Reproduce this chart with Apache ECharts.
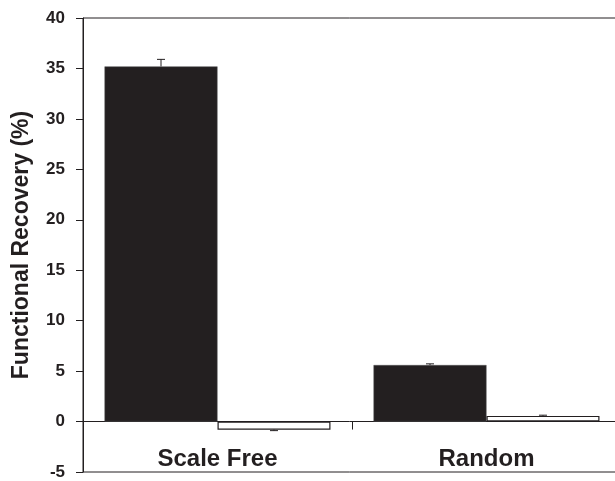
<!DOCTYPE html>
<html>
<head>
<meta charset="utf-8">
<script src="https://cdn.jsdelivr.net/npm/echarts@6/dist/echarts.min.js"></script>
<style>html,body{margin:0;padding:0;background:#fff;}#c{width:615px;height:481px;}</style>
</head>
<body>
<div id="c"></div>
<script>
const categories = ['Scale Free', 'Random'];
const blackValues = [35.2, 5.6];
const blackErrors = [0.7, 0.12];
const whiteValues = [-0.8, 0.56];
const whiteErrors = [0.1, 0.07];
const yTicks = { min: -5, max: 40, interval: 5 };

const INK = '#231f20';
const FONT = '"Liberation Sans", Arial, sans-serif';
const GAP = 0.16;

function errorSeries(values, errors, side) {
  return {
    type: 'custom',
    silent: true,
    z: 5,
    data: values.map((v, i) => [i, v, errors[i]]),
    renderItem: function (params, api) {
      const i = api.value(0), v = api.value(1), e = api.value(2);
      const catW = api.size([1, 0])[0];
      const barW = catW * (1 - GAP) / 2;
      const base = api.coord([i, v]);
      const x = base[0] + side * barW / 2;
      const end = api.coord([i, v >= 0 ? v + e : v - e]);
      const y0 = base[1], y1 = end[1];
      const style = { stroke: INK, lineWidth: 1 };
      return {
        type: 'group',
        children: [
          { type: 'line', shape: { x1: x, y1: y0, x2: x, y2: y1 }, style: style },
          { type: 'line', shape: { x1: x - 4, y1: y1, x2: x + 4, y2: y1 }, style: style }
        ]
      };
    }
  };
}

const chart = echarts.init(document.getElementById('c'));
chart.setOption({
  animation: false,
  backgroundColor: '#fff',
  grid: { left: 83, top: 18, right: -6, bottom: 9, containLabel: false, outerBoundsMode: 'none',
          show: true, borderColor: INK, borderWidth: 1, backgroundColor: 'transparent' },
  xAxis: [{
    type: 'category',
    data: categories,
    axisLine: { onZero: true, lineStyle: { color: INK, width: 1 } },
    axisTick: { show: true, length: 8, inside: false, lineStyle: { color: INK } },
    axisLabel: { show: false },
    splitLine: { show: false }
  }, {
    type: 'category',
    data: categories,
    position: 'bottom',
    axisLine: { show: false, onZero: false },
    axisTick: { show: false },
    axisLabel: { margin: -25, color: INK, fontFamily: FONT, fontWeight: 'bold', fontSize: 24, hideOverlap: false },
    splitLine: { show: false }
  }],
  yAxis: {
    type: 'value',
    min: yTicks.min, max: yTicks.max, interval: yTicks.interval,
    name: 'Functional Recovery (%)',
    nameLocation: 'middle',
    nameGap: 50,
    nameTextStyle: { color: INK, fontFamily: FONT, fontWeight: 'bold', fontSize: 23 },
    axisLine: { show: true, lineStyle: { color: INK, width: 1 } },
    axisTick: { show: true, length: 7, inside: false, lineStyle: { color: INK } },
    axisLabel: { margin: 18, color: INK, fontFamily: FONT, fontWeight: 'bold', fontSize: 17 },
    splitLine: { show: false }
  },
  series: [
    { type: 'bar', data: blackValues, barGap: '0%', barCategoryGap: (GAP * 100) + '%',
      itemStyle: { color: INK, borderColor: '#555', borderWidth: 0.5 } },
    { type: 'bar', data: whiteValues, barGap: '0%', barCategoryGap: (GAP * 100) + '%',
      itemStyle: { color: '#fff', borderColor: INK, borderWidth: 1.2 } },
    errorSeries(blackValues, blackErrors, -1),
    errorSeries(whiteValues, whiteErrors, 1)
  ]
});
</script>
</body>
</html>
